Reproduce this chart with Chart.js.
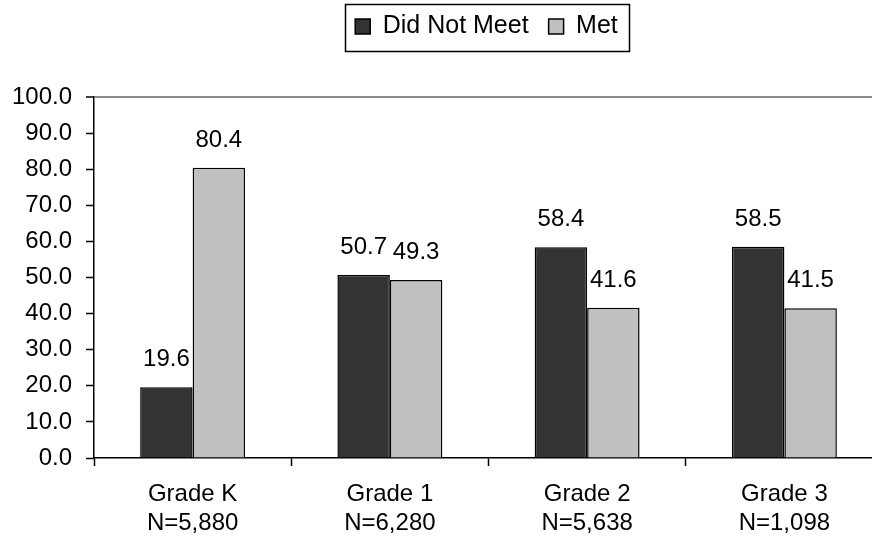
<!DOCTYPE html>
<html>
<head>
<meta charset="utf-8">
<script src="https://cdn.jsdelivr.net/npm/chart.js@4/dist/chart.umd.min.js"></script>
<style>
  html, body { margin: 0; padding: 0; background: #fff; overflow: hidden; }
  #wrap { width: 872px; height: 540px; overflow: hidden; }
  canvas { display: block; }
</style>
</head>
<body>
<div id="wrap"><canvas id="c" width="900" height="540"></canvas></div>
<script>
// Grades and group sizes shown under each pair of bars
const grades = ['Grade K', 'Grade 1', 'Grade 2', 'Grade 3'];
const groupSizes = ['N=5,880', 'N=6,280', 'N=5,638', 'N=1,098'];

// Percent of students in each outcome
const didNotMeet = [19.6, 50.7, 58.4, 58.5];
const met = [80.4, 49.3, 41.6, 41.5];

// Value axis
const yMin = 0;
const yMax = 100;
const yStep = 10;

const FONT = 'Arial, "Liberation Sans", sans-serif';
Chart.defaults.font.family = FONT;
Chart.defaults.font.size = 24;
Chart.defaults.color = '#000';

// Writes each bar's value above it
const valueLabels = {
  id: 'valueLabels',
  afterDatasetsDraw(chart) {
    const ctx = chart.ctx;
    ctx.save();
    ctx.font = '24px ' + FONT;
    ctx.fillStyle = '#000';
    ctx.textAlign = 'center';
    ctx.textBaseline = 'alphabetic';
    chart.data.datasets.forEach((ds, di) => {
      chart.getDatasetMeta(di).data.forEach((bar, i) => {
        ctx.fillText(ds.data[i].toFixed(1), bar.x, bar.y - 21);
      });
    });
    ctx.restore();
  }
};

// Centres the legend over the plot area and frames it
const legendFrame = {
  id: 'legendFrame',
  afterLayout(chart) {
    const lg = chart.legend;
    const ca = chart.chartArea;
    const dx = (ca.left + ca.right) / 2 - 2 - (lg.left + lg.right) / 2;
    lg.left += dx; lg.right += dx;
    const dy = 14 - (lg.top + lg.options.labels.padding);
    lg.top += dy; lg.bottom += dy;
  },
  afterDraw(chart) {
    const hb = chart.legend.legendHitBoxes;
    if (!hb || !hb.length) return;
    let l = Infinity, r = -Infinity, t = Infinity, b = -Infinity;
    hb.forEach(h => {
      l = Math.min(l, h.left); r = Math.max(r, h.left + h.width);
      t = Math.min(t, h.top); b = Math.max(b, h.top + h.height);
    });
    const ctx = chart.ctx;
    ctx.save();
    ctx.strokeStyle = '#000';
    ctx.lineWidth = 1.5;
    ctx.strokeRect(Math.round(l - 10) + 0.5, Math.round(t - 10) + 0.5,
                   Math.round(r - l + 21), Math.round(b - t + 22));
    ctx.restore();
  }
};

new Chart(document.getElementById('c'), {
  type: 'bar',
  data: {
    labels: grades.map((g, i) => [g, groupSizes[i]]),
    datasets: [
      {
        label: 'Did Not Meet',
        data: didNotMeet,
        backgroundColor: '#333333',
        borderColor: '#000',
        borderWidth: 1.5,
        categoryPercentage: 0.532,
        barPercentage: 1
      },
      {
        label: 'Met',
        data: met,
        backgroundColor: '#c0c0c0',
        borderColor: '#000',
        borderWidth: 1.5,
        categoryPercentage: 0.532,
        barPercentage: 1
      }
    ]
  },
  options: {
    responsive: false,
    devicePixelRatio: 1,
    animation: false,
    layout: { padding: { left: 0, right: 17, top: 42, bottom: 0 } },
    plugins: {
      tooltip: { enabled: false },
      legend: {
        position: 'top',
        align: 'center',
        labels: {
          boxWidth: 15,
          boxHeight: 15,
          padding: 20,
          font: { size: 25, family: FONT },
          color: '#000'
        }
      }
    },
    scales: {
      x: {
        grid: {
          display: true,
          offset: true,
          drawOnChartArea: false,
          drawTicks: true,
          tickLength: 8,
          tickColor: '#000',
          tickWidth: 1.5
        },
        border: { display: true, color: '#000', width: 1.5 },
        ticks: {
          padding: 14,
          maxRotation: 0,
          autoSkip: false,
          font: { size: 24, family: FONT, lineHeight: 1.2 },
          color: '#000'
        },
        afterFit(scale) { scale.height = 82; }
      },
      y: {
        min: yMin,
        max: yMax,
        grid: {
          drawTicks: true,
          tickLength: 8,
          tickColor: '#000',
          tickWidth: 1.5,
          color: c => (c.tick && c.tick.value === yMax ? '#8c8c8c' : 'rgba(0,0,0,0)'),
          lineWidth: c => (c.tick && c.tick.value === yMax ? 2 : 1)
        },
        border: { display: true, color: '#000', width: 1.5 },
        ticks: {
          stepSize: yStep,
          padding: 14,
          font: { size: 24, family: FONT },
          color: '#000',
          callback: v => Number(v).toFixed(1)
        },
        afterFit(scale) { scale.width = 94; }
      }
    }
  },
  plugins: [valueLabels, legendFrame]
});
</script>
</body>
</html>
